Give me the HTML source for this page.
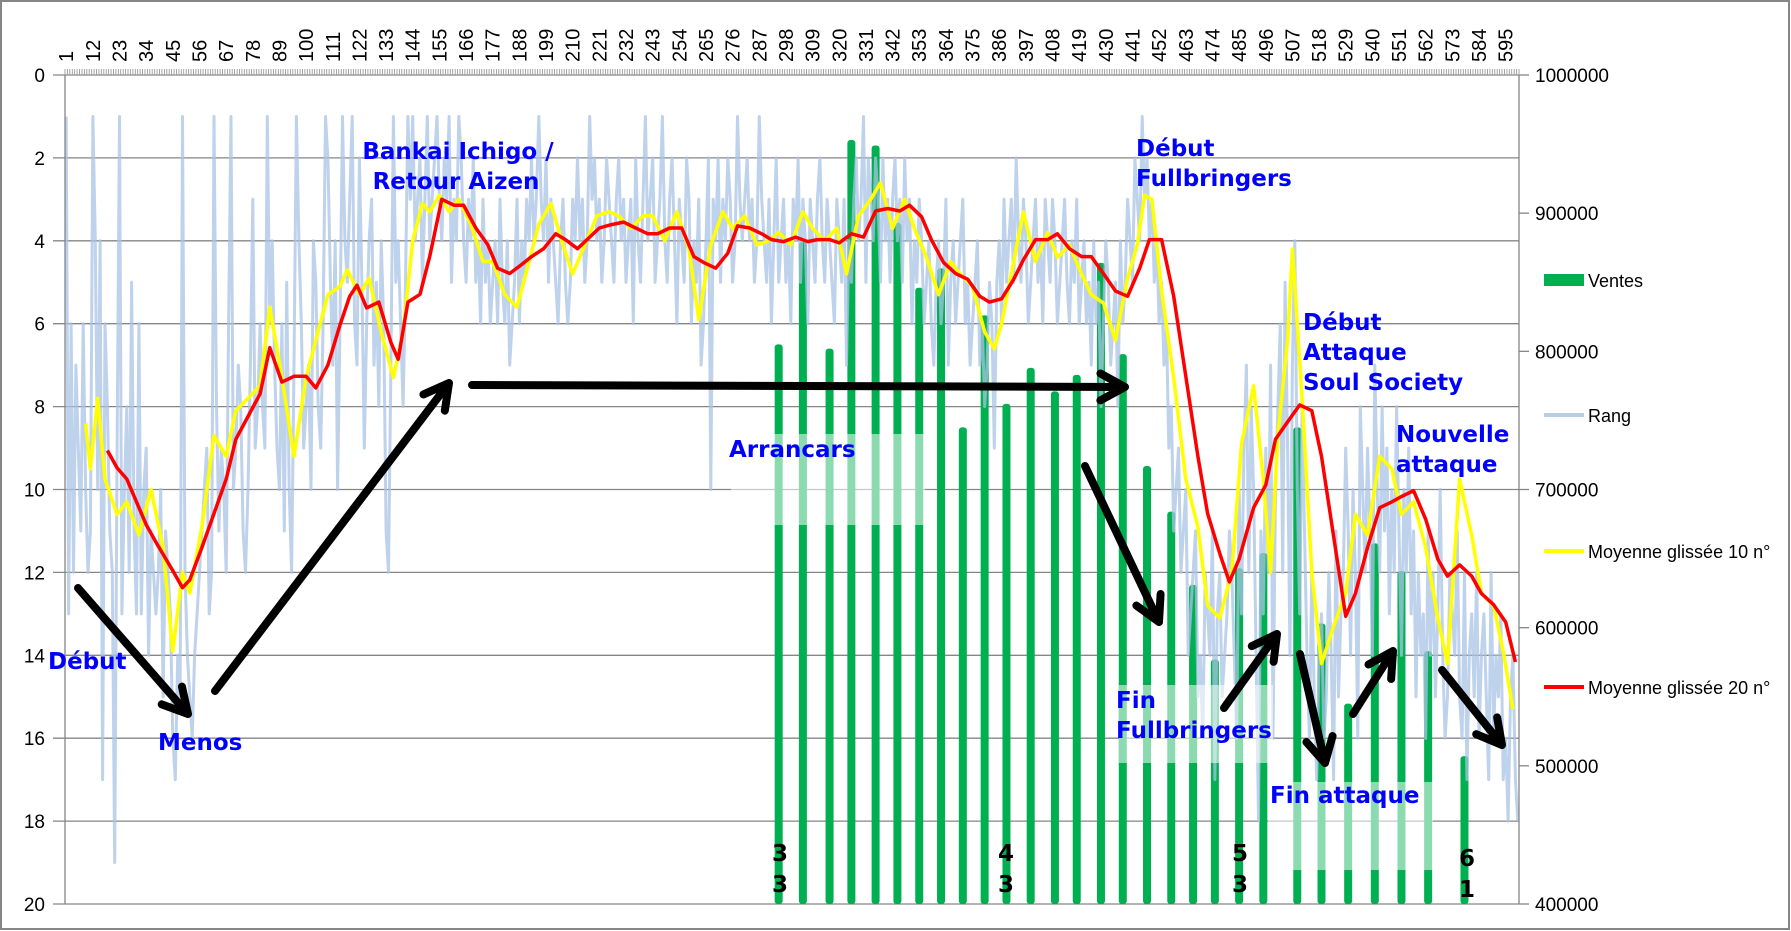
<!DOCTYPE html>
<html><head><meta charset="utf-8"><style>
html,body{margin:0;padding:0;background:#fff}
svg{display:block}
</style></head><body>
<svg id="chart" width="1791" height="931" viewBox="0 0 1791 931" xmlns="http://www.w3.org/2000/svg" font-family="'Liberation Sans','DejaVu Sans',sans-serif">
<rect x="1" y="1" width="1788" height="928" fill="#fff" stroke="#868686" stroke-width="2"/>
<g id="grid"></g>
<g id="bars"></g>
<g id="lines"></g>
<g id="axes"></g>
<g id="boxes">
<rect x="731" y="434" width="194" height="91" fill="#fff" opacity="0.55"/>
<rect x="1119" y="685" width="154" height="78" fill="#fff" opacity="0.55"/>
<rect x="1268" y="782" width="165" height="88" fill="#fff" opacity="0.55"/>
</g>
<g id="arrows" stroke="#000" stroke-width="8" stroke-linecap="round" stroke-linejoin="round" fill="none"></g>
<g font-family="'DejaVu Sans',sans-serif" font-weight="bold" font-size="23" fill="#0000ff">
<text x="458" y="159" text-anchor="middle">Bankai Ichigo /</text>
<text x="456" y="189" text-anchor="middle">Retour Aizen</text>
<text x="1136" y="156">Début</text>
<text x="1136" y="186">Fullbringers</text>
<text x="1303" y="330">Début</text>
<text x="1303" y="360">Attaque</text>
<text x="1303" y="390">Soul Society</text>
<text x="1396" y="442">Nouvelle</text>
<text x="1396" y="472">attaque</text>
<text x="729" y="457">Arrancars</text>
<text x="48" y="669">Début</text>
<text x="158" y="750">Menos</text>
<text x="1116" y="708">Fin</text>
<text x="1116" y="738">Fullbringers</text>
<text x="1270" y="803">Fin attaque</text>
</g>
<g font-family="'DejaVu Sans',sans-serif" font-weight="bold" font-size="23" fill="#000" text-anchor="middle">
<text x="780" y="861">3</text><text x="780" y="892">3</text>
<text x="1006" y="861">4</text><text x="1006" y="892">3</text>
<text x="1240" y="861">5</text><text x="1240" y="892">3</text>
<text x="1467" y="866">6</text><text x="1467" y="897">1</text>
</g>
<g font-size="18" fill="#000">
<rect x="1544" y="274" width="40" height="12" fill="#00b050"/>
<text x="1588" y="287">Ventes</text>
<line x1="1544" y1="415" x2="1584" y2="415" stroke="#b9cde8" stroke-width="4"/>
<text x="1588" y="422">Rang</text>
<line x1="1544" y1="551" x2="1584" y2="551" stroke="#ffff00" stroke-width="4"/>
<text x="1588" y="558">Moyenne glissée 10 n°</text>
<line x1="1544" y1="687" x2="1584" y2="687" stroke="#ff0000" stroke-width="4"/>
<text x="1588" y="694">Moyenne glissée 20 n°</text>
</g>
</svg>
<script>
const rang=[1,13,6,12,7,9,11,6,10,12,11,1,4,10,4,17,6,8,11,12,
19,9,1,13,10,8,12,5,11,13,6,13,10,9,14,11,12,13,12,10,
15,11,12,13,16,17,14,15,1,12,14,15,16,14,13,12,11,10,9,13,
12,1,8,11,9,10,12,6,1,10,9,7,8,11,12,10,7,3,9,8,
6,8,9,1,6,4,7,9,10,6,11,5,10,12,7,1,4,6,9,8,
7,10,4,5,8,9,6,1,2,5,7,4,10,6,1,4,5,3,1,6,
7,2,5,9,6,4,3,7,5,8,4,6,11,12,7,1,5,4,6,8,
5,1,3,1,4,3,2,5,3,1,4,3,2,1,3,4,2,3,1,5,
3,4,1,2,4,5,3,4,2,5,4,6,3,5,4,6,5,4,6,3,
5,6,4,7,6,5,3,6,4,5,3,4,2,4,3,1,3,4,2,5,
3,4,5,6,4,3,5,6,5,3,4,2,4,3,5,4,1,3,2,4,
3,5,4,2,3,4,5,3,2,4,3,5,4,3,6,2,4,5,3,1,
4,3,2,5,4,3,1,4,5,3,2,4,6,3,4,5,2,3,6,4,
5,3,7,6,4,2,10,3,4,2,5,3,4,2,3,5,4,1,3,4,
3,2,4,3,5,4,1,3,4,5,3,6,4,2,5,4,3,5,4,6,
3,4,2,5,3,4,6,3,4,5,3,2,4,5,3,4,5,6,3,4,
5,3,7,4,5,3,2,4,3,1,5,2,3,4,2,3,5,2,4,3,
5,3,2,4,3,5,2,4,3,6,4,5,3,4,6,5,4,6,7,5,
4,6,5,3,7,5,4,6,5,4,3,6,5,7,6,5,4,7,6,8,
7,5,6,9,5,4,6,3,5,4,3,5,2,4,5,3,4,6,5,4,
3,5,4,6,3,4,5,3,4,6,5,4,3,5,6,4,5,3,6,5,
4,6,5,7,4,6,5,8,6,4,5,7,6,5,8,4,6,5,3,4,
5,2,3,4,1,3,2,4,3,5,4,6,5,7,6,9,8,11,10,9,
12,11,10,14,13,12,11,15,14,16,12,13,14,11,17,13,12,15,14,13,
11,12,14,16,10,13,9,7,12,8,10,14,18,11,13,9,12,7,16,10,
8,6,12,5,9,14,7,4,10,13,8,11,14,16,12,15,17,14,13,16,
15,12,14,17,11,15,13,12,9,11,14,10,12,16,8,10,12,9,11,14,
7,10,12,8,11,9,13,10,12,8,11,14,10,12,9,13,11,15,12,14,
13,16,11,14,12,15,13,10,14,16,15,12,13,14,11,15,16,12,17,14,
13,15,12,16,14,13,15,17,12,16,14,15,13,17,16,18,15,14,17,18];
const ma10Cats=[9,11,14,17,22,26,31,36,41,45,49,52,57,62,67,71,76,81,85,90,95,100,104,109,114,117,122,126,131,136,140,144,148,151,155,159,163,168,173,177,182,187,192,196,201,206,210,215,220,225,229,234,239,243,248,253,258,262,267,272,276,281,286,291,295,300,305,309,314,319,323,328,333,337,342,347,351,356,361,366,370,375,380,384,387,392,396,401,406,410,415,420,424,429,434,439,443,446,449,453,458,463,468,472,477,482,486,491,495,498,501,505,507,511,515,519,524,529,533,538,543,548,552,557,562,567,571,576,581,585,590,594,598];
const ma10Vals=[8.4,9.5,7.8,9.75,10.6,10.3,11.1,10.0,11.4,13.9,12.0,12.5,10.9,8.7,9.2,8.1,7.8,7.5,5.6,7.3,9.2,7.3,6.4,5.3,5.1,4.7,5.3,4.9,6.2,7.3,6.2,4.0,3.1,3.3,2.9,3.3,3.0,3.6,4.5,4.5,5.3,5.6,4.5,3.6,3.1,4.1,4.8,4.1,3.4,3.3,3.4,3.7,3.4,3.4,4.0,3.3,4.2,5.9,4.1,3.3,3.7,3.4,4.1,4.0,3.8,4.1,3.3,3.7,4.0,3.7,4.8,3.4,3.0,2.6,3.7,3.0,3.7,4.4,5.3,4.5,4.8,5.1,6.2,6.6,6.0,4.5,3.3,4.5,3.8,4.4,4.1,4.8,5.3,5.5,6.4,4.9,4.1,2.9,3.0,5.2,7.3,9.75,10.9,12.8,13.1,12.0,8.9,7.5,9.75,12.0,8.7,6.4,4.2,7.8,12.0,14.2,13.3,12.5,10.6,11.1,9.2,9.5,10.6,10.3,11.4,13.1,14.2,9.75,11.1,12.5,12.8,13.9,15.3];
const ma20Cats=[18,22,26,34,38,45,49,52,57,62,67,71,76,81,85,90,95,100,104,109,114,118,121,125,130,135,138,142,147,151,156,161,165,170,175,179,184,189,193,198,203,207,212,217,221,226,231,236,241,245,250,255,260,264,269,274,278,283,288,292,297,302,307,311,316,320,325,330,335,340,345,349,354,358,363,368,373,378,382,387,392,396,401,406,410,415,420,424,429,434,439,444,448,453,458,463,468,472,477,481,485,491,496,500,505,510,515,519,524,529,533,538,543,548,552,557,562,567,571,576,581,585,590,595,599];
const ma20Vals=[9.06,9.48,9.75,10.85,11.27,11.96,12.37,12.18,11.4,10.58,9.75,8.79,8.24,7.69,6.58,7.41,7.27,7.27,7.55,7.0,6.03,5.34,5.07,5.62,5.48,6.45,6.86,5.48,5.29,4.38,3.0,3.14,3.14,3.69,4.1,4.66,4.79,4.57,4.38,4.19,3.83,3.97,4.19,3.91,3.69,3.61,3.55,3.69,3.83,3.83,3.69,3.69,4.38,4.52,4.66,4.3,3.64,3.69,3.83,3.97,4.02,3.91,4.02,3.97,3.97,4.05,3.83,3.91,3.28,3.22,3.28,3.14,3.42,3.97,4.52,4.79,4.93,5.34,5.48,5.4,4.93,4.46,3.97,3.97,3.83,4.19,4.38,4.38,4.79,5.21,5.34,4.66,3.97,3.97,5.34,7.27,9.2,10.58,11.54,12.23,11.68,10.44,9.89,8.79,8.37,7.96,8.1,9.2,11.13,13.06,12.51,11.4,10.44,10.3,10.17,10.03,10.72,11.68,12.09,11.82,12.09,12.51,12.78,13.2,14.16];
const salesCats=[295,305,316,325,335,344,353,362,371,380,389,399,409,418,428,437,447,457,466,475,485,495,509,519,530,541,552,563,578];
const salesVals=[805000,879000,802000,953000,949000,893000,846000,860000,745000,826000,762000,788000,771000,783000,864000,798000,717000,684000,631000,577000,643000,654000,745000,603000,545000,661000,641000,583000,507000];
const rankTicks=[0,2,4,6,8,10,12,14,16,18,20];
const salesTicks=[400000,500000,600000,700000,800000,900000,1000000];

const NS='http://www.w3.org/2000/svg';
const L=65,R=1519,T=75,B=904,N=600;
const xS=c=>L+(c-0.5)*(R-L)/N;
const yR=r=>T+r/20*(B-T);
const yV=v=>B-(v-400000)/600000*(B-T);
function mk(tag,attrs,parent){const e=document.createElementNS(NS,tag);for(const k in attrs)e.setAttribute(k,attrs[k]);parent.appendChild(e);return e;}
const grid=document.getElementById('grid'),axes=document.getElementById('axes'),bars=document.getElementById('bars'),lines=document.getElementById('lines'),arrows=document.getElementById('arrows');
rankTicks.forEach(t=>{
  const g=mk('line',{x1:L-12,x2:R,y1:yR(t),y2:yR(t),stroke:'#868686','stroke-width':1.3},grid);
  
  
  const tx=mk('text',{x:L-20,y:yR(t)+7,'text-anchor':'end','font-size':19,fill:'#000'},axes);
  tx.textContent=t;
  
  
});
salesTicks.forEach(t=>{
  const m=mk('line',{x1:R,x2:R+10,y1:yV(t),y2:yV(t),stroke:'#868686','stroke-width':1.3},axes);
  
  
  const tx=mk('text',{x:R+16,y:yV(t)+7,'font-size':19,fill:'#000'},axes);
  tx.textContent=t;
  
  
});
const la=mk('line',{x1:L,x2:L,y1:T,y2:B,stroke:'#868686','stroke-width':1.3},axes);


const ra=mk('line',{x1:R,x2:R,y1:T,y2:B,stroke:'#868686','stroke-width':1.3},axes);


let td='';
for(let c=0;c<=N;c++){const x=(L+c*(R-L)/N).toFixed(1);td+='M'+x+' '+(T-6)+'V'+T;}
const tk=mk('path',{d:td,stroke:'#9a9a9a','stroke-width':0.9},axes);


for(let c=1;c<=N;c+=11){
  const x=xS(c)+7;
  const tx=mk('text',{x:x,y:62,'font-size':20,fill:'#000',transform:`rotate(-90 ${x} 62)`},axes);
  tx.textContent=c;
  
  
}
salesCats.forEach((c,i)=>{
  const y=yV(salesVals[i]);
  const b=mk('rect',{x:xS(c)-4,y:y,width:8,height:B-y,fill:'#00b050',rx:3},bars);
  
  
});
const rp=rang.map((v,i)=>(i?'L':'M')+xS(i+1).toFixed(1)+' '+yR(v).toFixed(1)).join('');
const rl=mk('path',{d:rp,stroke:'#a8c3e6','stroke-width':3,fill:'none',opacity:0.75,'stroke-linejoin':'round'},lines);


const m10=ma10Cats.map((c,i)=>(i?'L':'M')+xS(c).toFixed(1)+' '+yR(ma10Vals[i]).toFixed(1)).join('');
const l10=mk('path',{d:m10,stroke:'#ffff00','stroke-width':3.5,fill:'none','stroke-linejoin':'round'},lines);


const m20=ma20Cats.map((c,i)=>(i?'L':'M')+xS(c).toFixed(1)+' '+yR(ma20Vals[i]).toFixed(1)).join('');
const l20=mk('path',{d:m20,stroke:'#ff0000','stroke-width':3.5,fill:'none','stroke-linejoin':'round'},lines);


const arr=[[78,588,188,714],[215,691,449,383],[472,385,1125,387],[1085,466,1159,622],[1224,708,1277,634],[1300,654,1325,763],[1353,714,1393,651],[1442,670,1502,745]];
arr.forEach(a=>{
  const [x1,y1,x2,y2]=a,ang=Math.atan2(y2-y1,x2-x1),h=28,s=0.5;
  const d=`M${x1} ${y1}L${x2} ${y2}M${x2-h*Math.cos(ang-s)} ${y2-h*Math.sin(ang-s)}L${x2} ${y2}L${x2-h*Math.cos(ang+s)} ${y2-h*Math.sin(ang+s)}`;
  const p=mk('path',{d:d},arrows);
  
  
});
</script>
</body></html>
